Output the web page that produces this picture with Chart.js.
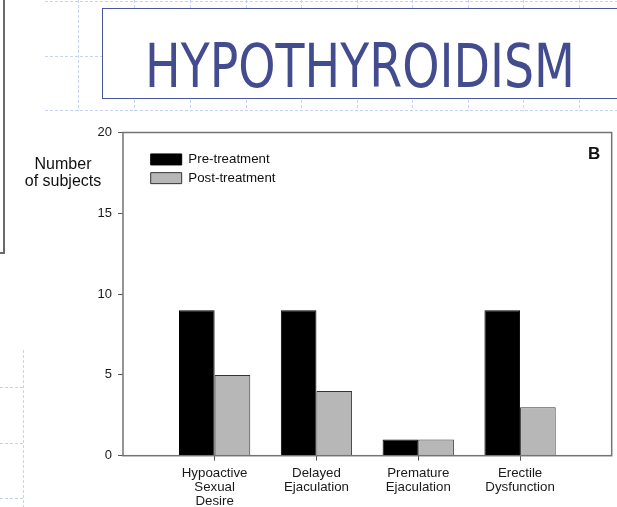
<!DOCTYPE html>
<html>
<head>
<meta charset="utf-8">
<script src="https://cdn.jsdelivr.net/npm/chart.js@4.4.1/dist/chart.umd.min.js"></script>
<style>
  html, body { margin: 0; padding: 0; background: #fff; }
  body { width: 617px; height: 507px; position: relative; overflow: hidden; font-family: "Liberation Sans", Arial, sans-serif; }
  #bg { position: absolute; left: 0; top: 0; }
  #sideBox { position: absolute; left: -10px; top: -10px; width: 11px; height: 260px; border: 2px solid #6a6a6a; }
  #titleBox { position: absolute; left: 102px; top: 8px; width: 540px; height: 89px; border: 1.5px solid #4b569c; background: #fff; }
  #title { position: absolute; left: 145px; top: 36px; font: 60px "DejaVu Sans", sans-serif; line-height: 1; color: #434c8e; white-space: nowrap; transform-origin: 0 0; }
  #chart { position: absolute; left: 0; top: 0; }
  #yTitle { position: absolute; left: 13px; top: 155px; width: 100px; text-align: center; font-size: 16px; line-height: 17.4px; color: #111; }
  #panel { position: absolute; left: 588px; top: 145px; font-size: 17px; font-weight: bold; line-height: 1; color: #111; }
</style>
</head>
<body>
<svg id="bg" width="617" height="507">
  <g stroke="#c8d3f4" stroke-width="1" stroke-dasharray="3 2" fill="none">
    <line x1="45" y1="1.5" x2="617" y2="1.5"/>
    <line x1="45" y1="56.5" x2="102" y2="56.5"/>
    <line x1="45" y1="110.5" x2="617" y2="110.5"/>
    <line x1="78.5" y1="0" x2="78.5" y2="111"/>
    <line x1="134.5" y1="0" x2="134.5" y2="111"/>
    <line x1="190.5" y1="0" x2="190.5" y2="111"/>
    <line x1="246.5" y1="0" x2="246.5" y2="111"/>
    <line x1="301.5" y1="0" x2="301.5" y2="111"/>
    <line x1="357.5" y1="0" x2="357.5" y2="111"/>
    <line x1="412.5" y1="0" x2="412.5" y2="111"/>
    <line x1="468.5" y1="0" x2="468.5" y2="111"/>
    <line x1="523.5" y1="0" x2="523.5" y2="111"/>
    <line x1="579.5" y1="0" x2="579.5" y2="111"/>
    <line x1="23.5" y1="350" x2="23.5" y2="507"/>
    <line x1="0" y1="387.5" x2="23" y2="387.5"/>
    <line x1="0" y1="443.5" x2="23" y2="443.5"/>
    <line x1="0" y1="498.5" x2="23" y2="498.5"/>
  </g>
</svg>
<div id="sideBox"></div>
<div id="titleBox"></div>
<div id="title">HYPOTHYROIDISM</div>
<canvas id="chart" width="617" height="507"></canvas>
<div id="yTitle">Number<br>of subjects</div>
<div id="panel">B</div>
<script>
// Chart data
const categories = [
    ['Hypoactive', 'Sexual', 'Desire'],
    ['Delayed', 'Ejaculation'],
    ['Premature', 'Ejaculation'],
    ['Erectile', 'Dysfunction']
];
const seriesNames = ['Pre-treatment', 'Post-treatment'];
const preTreatment = [9, 9, 1, 9];
const postTreatment = [5, 4, 1, 3];
const yTicks = [0, 5, 10, 15, 20];

// Squeeze the slide title to the width of the original
const title = document.getElementById('title');
title.style.transform = `scaleX(${430 / title.getBoundingClientRect().width})`;

const font = { family: '"Liberation Sans", Arial, sans-serif', size: 13.3 };

// Box round the plot, legend tucked into the top-left corner
const framePlugin = {
    id: 'frame',
    afterLayout(chart) {
        const area = chart.chartArea;
        chart.legend.left = area.left + 22.3;
        chart.legend.top = area.top + 14.9;
    },
    afterDatasetsDraw(chart) {
        const { ctx, chartArea: a } = chart;
        ctx.save();
        ctx.strokeStyle = '#747474';
        ctx.lineWidth = 1.5;
        ctx.strokeRect(a.left, a.top, a.right - a.left, a.bottom - a.top);
        ctx.restore();
    }
};

new Chart(document.getElementById('chart'), {
    type: 'bar',
    data: {
        datasets: [
            {
                label: seriesNames[0],
                data: preTreatment.map((v, i) => ({ x: i, y: v })),
                backgroundColor: '#000',
                borderColor: '#000',
                borderWidth: 1
            },
            {
                label: seriesNames[1],
                data: postTreatment.map((v, i) => ({ x: i, y: v })),
                backgroundColor: '#b7b7b7',
                borderColor: '#333',
                borderWidth: 1
            }
        ]
    },
    options: {
        responsive: false,
        animation: false,
        categoryPercentage: 0.7,
        barPercentage: 1,
        layout: { padding: { left: 0, top: 132.5, right: 5.3, bottom: 0 } },
        plugins: {
            legend: {
                position: 'chartArea',
                align: 'start',
                labels: { boxWidth: 31, boxHeight: 11, padding: 5.4, color: '#111', font }
            },
            tooltip: { enabled: false }
        },
        scales: {
            x: {
                type: 'linear',
                min: -0.9,
                max: 3.9,
                offset: false,
                afterBuildTicks: s => { s.ticks = categories.map((c, i) => ({ value: i })); },
                afterFit: s => { s.height = 51.3; },
                grid: { drawOnChartArea: false, tickLength: 5, color: '#555', offset: false },
                border: { display: false },
                ticks: {
                    callback: v => categories[v],
                    color: '#1a1a1a',
                    padding: 5,
                    maxRotation: 0,
                    autoSkip: false,
                    font: { ...font, lineHeight: 1.08 }
                }
            },
            y: {
                min: 0,
                max: 20,
                afterBuildTicks: s => { s.ticks = yTicks.map(v => ({ value: v })); },
                afterFit: s => { s.width = 123; },
                grid: { drawOnChartArea: false, tickLength: 5, color: '#555' },
                border: { display: false },
                ticks: { padding: 6, color: '#1a1a1a', font: { ...font, size: 13 } }
            }
        }
    },
    plugins: [framePlugin]
});
</script>
</body>
</html>
